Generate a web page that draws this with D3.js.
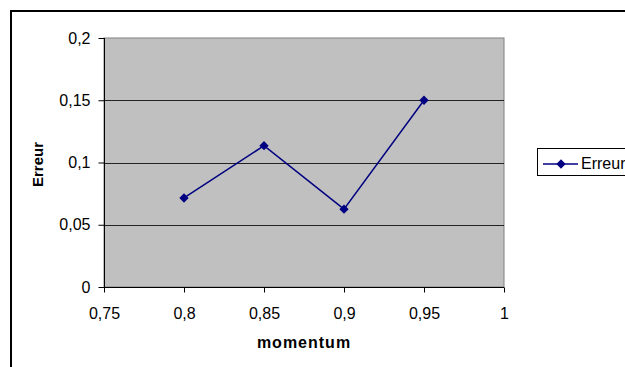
<!DOCTYPE html>
<html><head><meta charset="utf-8">
<script src="https://cdn.jsdelivr.net/npm/d3@7"></script>
<style>body{margin:0;background:#fff;overflow:hidden}svg{display:block}</style>
</head><body>
<svg id="c" width="625" height="367"></svg>
<script>
const momentum = [0.8, 0.85, 0.9, 0.95];
const erreur = [0.0715, 0.1135, 0.0625, 0.150];
const xTicks = [0.75, 0.8, 0.85, 0.9, 0.95, 1];
const yTicks = [0, 0.05, 0.1, 0.15, 0.2];
const seriesName = "Erreur";
const xTitle = "momentum";
const yTitle = "Erreur";

const fmt = d => String(d).replace(".", ",");
const svg = d3.select("#c");
const F = "'Liberation Sans', Arial, sans-serif";
const L = 104, R = 504, T = 38, B = 287;
const x = d3.scaleLinear().domain([0.75, 1]).range([L, R]);
const y = d3.scaleLinear().domain([0, 0.2]).range([B, T]);

// outer frame
svg.append("rect").attr("x", 11).attr("y", 11).attr("width", 700).attr("height", 400)
  .attr("fill", "#fff").attr("stroke", "#000").attr("stroke-width", 2);

// plot area
svg.append("rect").attr("x", L).attr("y", T).attr("width", R - L).attr("height", B - T)
  .attr("fill", "#c0c0c0").attr("stroke", "#808080").attr("stroke-width", 1);

// gridlines
svg.append("g").selectAll("line").data(yTicks.filter(d => d > 0 && d < 0.2)).join("line")
  .attr("x1", L).attr("x2", R).attr("y1", d => Math.round(y(d)) + 0.5).attr("y2", d => Math.round(y(d)) + 0.5)
  .attr("stroke", "#222").attr("stroke-width", 1);

// axes
const yAxis = d3.axisLeft(y).tickValues(yTicks).tickFormat(fmt).tickSize(6).tickPadding(8);
const gy = svg.append("g").attr("transform", `translate(${L + 0.5},0)`).call(yAxis);
const xAxis = d3.axisBottom(x).tickValues(xTicks).tickFormat(fmt).tickSize(5).tickPadding(8);
const gx = svg.append("g").attr("transform", `translate(0,${B + 0.5})`).call(xAxis);
[gx, gy].forEach(g => {
  g.select(".domain").attr("stroke", "#000");
  g.selectAll(".tick line").attr("stroke", "#000");
  g.selectAll("text").attr("font-family", F).attr("font-size", 16).attr("fill", "#000");
});
gy.select(".domain").attr("d", `M0,${T}V${B}`);
gx.select(".domain").attr("d", `M${L},0H${R}`);
gx.selectAll(".tick text").attr("dy", null).attr("y", 31);

// line + markers
const line = d3.line().x((d, i) => x(momentum[i])).y(d => y(d));
svg.append("path").datum(erreur).attr("d", line).attr("fill", "none")
  .attr("stroke", "#000080").attr("stroke-width", 1.5);
const diamond = d3.symbol().type(d3.symbolDiamond2).size(55);
svg.append("g").selectAll("path").data(erreur).join("path")
  .attr("d", diamond).attr("transform", (d, i) => `translate(${x(momentum[i])},${y(d)})`)
  .attr("fill", "#000080");

// axis titles
svg.append("text").attr("x", (L + R) / 2).attr("y", 348).attr("text-anchor", "middle")
  .attr("font-family", F).attr("font-size", 16).attr("font-weight", "bold").attr("letter-spacing", 1).text(xTitle);
svg.append("text").attr("transform", `translate(43,${(T + B) / 2 + 2}) rotate(-90)`).attr("text-anchor", "middle")
  .attr("font-family", F).attr("font-size", 15).attr("font-weight", "bold").text(yTitle);

// legend
const lg = svg.append("g");
lg.append("rect").attr("x", 537.5).attr("y", 148.5).attr("width", 120).attr("height", 27)
  .attr("fill", "#fff").attr("stroke", "#000").attr("stroke-width", 1);
lg.append("line").attr("x1", 543).attr("x2", 578).attr("y1", 164).attr("y2", 164)
  .attr("stroke", "#000080").attr("stroke-width", 1.5);
lg.append("path").attr("d", diamond).attr("transform", "translate(561,164)").attr("fill", "#000080");
lg.append("text").attr("x", 581).attr("y", 169).attr("font-family", F).attr("font-size", 16).text(seriesName);
</script>
</body></html>
